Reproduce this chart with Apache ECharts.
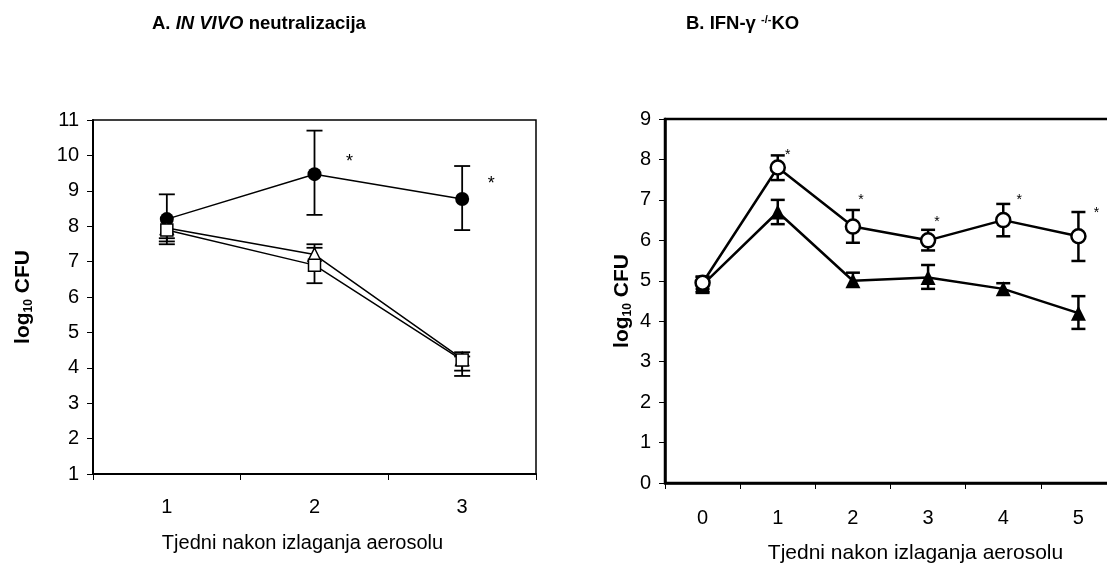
<!DOCTYPE html>
<html>
<head>
<meta charset="utf-8">
<script src="https://cdn.jsdelivr.net/npm/echarts@6/dist/echarts.min.js"></script>
<style>
html,body{margin:0;padding:0;background:#fff;}
#main{width:1107px;height:567px;}
</style>
</head>
<body>
<div id="main"></div>
<script>
// ---------- DATA ----------
// Panel A
const catsA = ['1', '2', '3'];
const yTicksA = [1, 11];           // min, max
const circA = [8.2, 9.47, 8.77];
const circA_lo = [7.66, 8.32, 7.89];
const circA_hi = [8.9, 10.7, 9.7];
const triA = [7.95, 7.2, 4.25];
const triA_lo = [7.57, 7.2, 3.77];
const triA_hi = [7.95, 7.49, 4.32];
const sqA = [7.89, 6.9, 4.22];
const sqA_lo = [7.49, 6.39, 3.92];
const sqA_hi = [7.89, 7.39, 4.44];
const starsA = [[1, 9.8], [2, 9.18]];

// Panel B
const catsB = ['0', '1', '2', '3', '4', '5'];
const yTicksB = [0, 9];
const circB = [4.95, 7.8, 6.34, 6.0, 6.5, 6.1];
const circB_lo = [4.8, 7.49, 5.94, 5.75, 6.1, 5.49];
const circB_hi = [5.1, 8.1, 6.75, 6.26, 6.9, 6.7];
const triB = [4.9, 6.7, 5.0, 5.08, 4.8, 4.2];
const triB_lo = [4.7, 6.4, 5.0, 4.8, 4.8, 3.81];
const triB_hi = [5.1, 7.0, 5.2, 5.39, 4.94, 4.62];
const starsB = [[1, 8.1], [2, 7.0], [3, 6.45], [4, 7.0], [5, 6.68]];

// ---------- STYLE ----------
const FONT = "'Liberation Sans', Arial, Helvetica, sans-serif";
const STAR_DX_A = [35, 29];
const STAR_DX_B = [10, 8, 9, 16, 18];

function errData(v, lo, hi) {
  return v.map((val, i) => [i, val, lo[i], hi[i]]);
}
function errSeries(xi, yi, v, lo, hi, capW, lw) {
  return {
    type: 'custom', xAxisIndex: xi, yAxisIndex: yi, z: 1,
    encode: {x: 0, y: 1},
    data: errData(v, lo, hi),
    renderItem: function (params, api) {
      const x = api.value(0), val = api.value(1), l = api.value(2), h = api.value(3);
      const p = api.coord([x, val]);
      const children = [];
      const st = {stroke: '#000', lineWidth: lw, fill: null};
      [h, l].forEach(function (e) {
        if (Math.abs(e - val) < 1e-9) return;
        const q = api.coord([x, e]);
        children.push({type: 'line', shape: {x1: p[0], y1: p[1], x2: q[0], y2: q[1]}, style: st});
        children.push({type: 'line', shape: {x1: q[0] - capW / 2, y1: q[1], x2: q[0] + capW / 2, y2: q[1]}, style: st});
      });
      return {type: 'group', children: children};
    }
  };
}
function starSeries(xi, yi, stars, dxs, fs) {
  return {
    type: 'custom', xAxisIndex: xi, yAxisIndex: yi, z: 5,
    encode: {x: 0, y: 1},
    data: stars,
    renderItem: function (params, api) {
      const p = api.coord([api.value(0), api.value(1)]);
      return {type: 'text', x: p[0] + dxs[params.dataIndex], y: p[1],
        style: {text: '*', fontSize: fs, fontFamily: FONT, fill: '#000', align: 'center', verticalAlign: 'middle'}};
    }
  };
}
function xAxisCfg(gi, data, lw, nameGap, nameSize, namePad, margin) {
  return {
    type: 'category', gridIndex: gi, data: data, boundaryGap: true,
    axisLine: {show: true, lineStyle: {color: '#000', width: lw}},
    axisTick: {show: true, length: 6, inside: false, lineStyle: {color: '#000', width: 1}},
    axisLabel: {fontSize: 20, color: '#000', fontFamily: FONT, margin: margin},
    splitLine: {show: false},
    name: 'Tjedni nakon izlaganja aerosolu', nameLocation: 'middle', nameGap: nameGap,
    nameTextStyle: {fontSize: nameSize, color: '#000', fontFamily: FONT, padding: namePad}
  };
}
function yAxisCfg(gi, ticks, lw, nameGap) {
  return {
    type: 'value', gridIndex: gi, min: ticks[0], max: ticks[1], interval: 1,
    axisLine: {show: true, lineStyle: {color: '#000', width: lw}},
    axisTick: {show: true, length: 6, inside: false, lineStyle: {color: '#000', width: 1}},
    axisLabel: {fontSize: 20, color: '#000', fontFamily: FONT, margin: 14},
    splitLine: {show: false},
    name: '{b|log}{s|10}{b| CFU}', nameLocation: 'middle', nameGap: nameGap, nameRotate: 90,
    nameTextStyle: {
      rich: {
        b: {fontSize: 21, fontWeight: 'bold', color: '#000', fontFamily: FONT, lineHeight: 24},
        s: {fontSize: 12, fontWeight: 'bold', color: '#000', fontFamily: FONT, lineHeight: 24, verticalAlign: 'bottom', padding: [7, 0, 0, 0]}
      }
    }
  };
}

const titleRich = {
  b: {fontSize: 18.5, fontWeight: 'bold', color: '#000', fontFamily: FONT},
  i: {fontSize: 18.5, fontWeight: 'bold', fontStyle: 'italic', color: '#000', fontFamily: FONT},
  sup: {fontSize: 11, fontWeight: 'bold', color: '#000', fontFamily: FONT, verticalAlign: 'top', padding: [0, 0, 9, 0]}
};

const option = {
  animation: false,
  backgroundColor: '#fff',
  title: [
    {left: 147, top: 9, text: '{b|A. }{i|IN VIVO}{b| neutralizacija}', textStyle: {rich: titleRich}},
    {left: 681, top: 9, text: '{b|B. IFN-γ }{sup|-/-}{b|KO}', textStyle: {rich: titleRich}}
  ],
  grid: [
    {left: 93, top: 120, width: 443, height: 354, show: true, borderColor: '#000', borderWidth: 1.5,
      backgroundColor: 'transparent', outerBoundsMode: 'none', containLabel: false},
    {left: 665, top: 119, width: 451, height: 364, show: true, borderColor: '#000', borderWidth: 2.5,
      backgroundColor: 'transparent', outerBoundsMode: 'none', containLabel: false}
  ],
  xAxis: [
    xAxisCfg(0, catsA, 2, 59, 20, [0, 24, 0, 0], 23),
    xAxisCfg(1, catsB, 2.5, 60, 21, [0, 0, 0, 50], 25)
  ],
  yAxis: [
    yAxisCfg(0, yTicksA, 2, 58),
    yAxisCfg(1, yTicksB, 2.5, 31)
  ],
  series: [
    errSeries(0, 0, circA, circA_lo, circA_hi, 16, 1.8),
    errSeries(0, 0, triA, triA_lo, triA_hi, 16, 1.8),
    errSeries(0, 0, sqA, sqA_lo, sqA_hi, 16, 1.8),
    {type: 'line', xAxisIndex: 0, yAxisIndex: 0, z: 2, data: circA, symbol: 'circle', symbolSize: 14,
      lineStyle: {color: '#000', width: 1.5}, itemStyle: {color: '#000', borderColor: '#000', borderWidth: 0}},
    {type: 'line', xAxisIndex: 0, yAxisIndex: 0, z: 3, data: triA, symbol: 'triangle', symbolSize: 13,
      lineStyle: {color: '#000', width: 1.5}, itemStyle: {color: '#fff', borderColor: '#000', borderWidth: 1.5}},
    {type: 'line', xAxisIndex: 0, yAxisIndex: 0, z: 4, data: sqA, symbol: 'rect', symbolSize: 12,
      lineStyle: {color: '#000', width: 1.5}, itemStyle: {color: '#fff', borderColor: '#000', borderWidth: 1.5}},
    starSeries(0, 0, starsA, STAR_DX_A, 18),

    errSeries(1, 1, circB, circB_lo, circB_hi, 14, 2.5),
    errSeries(1, 1, triB, triB_lo, triB_hi, 14, 2.5),
    {type: 'line', xAxisIndex: 1, yAxisIndex: 1, z: 2, data: triB, symbol: 'triangle', symbolSize: 15,
      lineStyle: {color: '#000', width: 2.5}, itemStyle: {color: '#000', borderColor: '#000', borderWidth: 0}},
    {type: 'line', xAxisIndex: 1, yAxisIndex: 1, z: 3, data: circB, symbol: 'circle', symbolSize: 14,
      lineStyle: {color: '#000', width: 2.5}, itemStyle: {color: '#fff', borderColor: '#000', borderWidth: 2.5}},
    starSeries(1, 1, starsB, STAR_DX_B, 14)
  ]
};

const chart = echarts.init(document.getElementById('main'), null, {renderer: 'canvas'});
chart.setOption(option);
</script>
</body>
</html>
